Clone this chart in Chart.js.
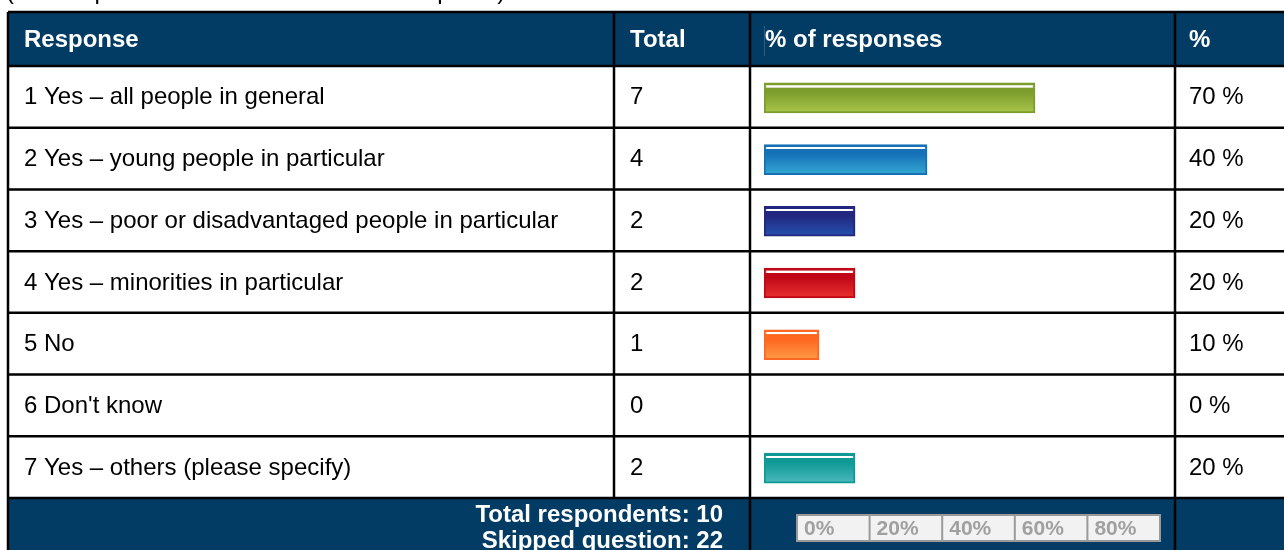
<!DOCTYPE html>
<html>
<head>
<meta charset="utf-8">
<script src="https://cdn.jsdelivr.net/npm/chart.js@4"></script>
<style>
  html, body { margin: 0; padding: 0; background: #fff; }
  #wrap { width: 1284px; height: 550px; position: relative; }
</style>
</head>
<body>
<div id="wrap"><canvas id="respChart"></canvas></div>
<script>
// data
const responses = [
    '1 Yes \u2013 all people in general',
    '2 Yes \u2013 young people in particular',
    '3 Yes \u2013 poor or disadvantaged people in particular',
    '4 Yes \u2013 minorities in particular',
    '5 No',
    "6 Don't know",
    '7 Yes \u2013 others (please specify)'
];
const totals = [7, 4, 2, 2, 1, 0, 2];
const percents = [70, 40, 20, 20, 10, 0, 20];
const axisTicks = ['0%', '20%', '40%', '60%', '80%'];
const headers = ['Response', 'Total', '% of responses', '%'];
const totalRespondents = 10;
const skippedQuestion = 22;

// bar colours: top (also border) and bottom of the gradient
const barTop = ['#7c9c2c', '#1670b6', '#22267e', '#bf0718', '#ff6620', '#0e9995'];
const barBottom = ['#aac54c', '#33a9d2', '#2552b0', '#e9302e', '#ff9b46', '#4cb9bd'];
const barColorIdx = [0, 1, 2, 3, 4, 5, 5];

const HEAD_BG = '#023b63';
const FONT = "'Liberation Sans', Arial, sans-serif";
const colX = [8, 614, 750, 1175];
const headTop = 12, headBottom = 66, footTop = 498;
const BAR_START = -5.3; // bars have a small minimum length in the original

// table drawn around the chart area
const tablePlugin = {
    id: 'table',
    beforeDraw(chart) {
        const ctx = chart.ctx;
        const y = chart.scales.y;
        ctx.save();
        // cut-off caption line above the table
        ctx.fillStyle = '#000';
        ctx.font = '24px ' + FONT;
        ctx.textBaseline = 'alphabetic';
        ctx.fillText('(Tick all possible answers that match \u2013 up to 7)', 6, -1);

        ctx.fillStyle = HEAD_BG;
        ctx.fillRect(colX[0], headTop, chart.width - colX[0], headBottom - headTop);
        ctx.fillRect(colX[0], footTop, chart.width - colX[0], chart.height - footTop);

        // header text
        ctx.fillStyle = '#fff';
        ctx.font = 'bold 24px ' + FONT;
        ctx.textBaseline = 'middle';
        const hx = [24, 630, 765, 1189];
        headers.forEach((h, i) => ctx.fillText(h, hx[i], (headTop + headBottom) / 2 + 1));
        ctx.strokeStyle = 'rgba(255,255,255,0.18)';
        ctx.lineWidth = 1;
        ctx.beginPath();
        ctx.moveTo(764.5, 26); ctx.lineTo(764.5, 56);
        ctx.stroke();

        // body text
        ctx.fillStyle = '#000';
        ctx.font = '24px ' + FONT;
        responses.forEach((r, i) => {
            const cy = y.getPixelForValue(i);
            ctx.fillText(r, 24, cy);
            ctx.fillText(String(totals[i]), 630, cy);
            ctx.fillText(percents[i] + ' %', 1189, cy);
        });

        // footer
        ctx.fillStyle = '#fff';
        ctx.font = 'bold 24px ' + FONT;
        ctx.textAlign = 'right';
        ctx.fillText('Total respondents: ' + totalRespondents, 723, 515);
        ctx.fillText('Skipped question: ' + skippedQuestion, 723, 541);

        // little percentage scale in the footer
        const ax0 = 797, ax1 = 1160, ay0 = 515, ay1 = 541;
        const cw = (ax1 - ax0) / axisTicks.length;
        ctx.fillStyle = '#f2f2f2';
        ctx.fillRect(ax0, ay0, ax1 - ax0, ay1 - ay0);
        ctx.strokeStyle = '#999';
        ctx.lineWidth = 2;
        ctx.strokeRect(ax0, ay0, ax1 - ax0, ay1 - ay0);
        ctx.textAlign = 'left';
        ctx.fillStyle = '#a0a0a0';
        ctx.font = 'bold 21px ' + FONT;
        axisTicks.forEach((t, i) => {
            const x = ax0 + i * cw;
            if (i > 0) {
                ctx.beginPath();
                ctx.moveTo(x, ay0); ctx.lineTo(x, ay1);
                ctx.stroke();
            }
            ctx.fillText(t, x + 7, (ay0 + ay1) / 2 + 1);
        });
        ctx.restore();
    },
    afterDraw(chart) {
        const ctx = chart.ctx;
        const rowH = (footTop - headBottom) / responses.length;
        ctx.save();
        ctx.strokeStyle = '#000';
        ctx.lineWidth = 2.5;
        ctx.beginPath();
        for (let i = 0; i <= responses.length; i++) {
            const ly = headBottom + i * rowH;
            ctx.moveTo(colX[0], ly); ctx.lineTo(chart.width, ly);
        }
        ctx.moveTo(colX[0], headTop); ctx.lineTo(chart.width, headTop);
        colX.forEach((x, i) => {
            ctx.moveTo(x, headTop);
            ctx.lineTo(x, i === 1 ? footTop : chart.height);
        });
        ctx.stroke();
        ctx.restore();
    }
};

function barFill(context) {
    const chart = context.chart;
    const yScale = chart.scales.y;
    const i = context.dataIndex;
    const c = barColorIdx[i] || 0;
    if (!yScale || i === undefined) return barTop[c];
    const cy = yScale.getPixelForValue(i);
    if (!isFinite(cy)) return barTop[c];
    const g = chart.ctx.createLinearGradient(0, cy - 15, 0, cy + 15);
    g.addColorStop(0, barTop[c]);
    g.addColorStop(0.08, barTop[c]);
    g.addColorStop(0.09, 'rgba(255,255,255,0.4)');
    g.addColorStop(0.15, 'rgba(255,255,255,0.4)');
    g.addColorStop(0.16, barTop[c]);
    g.addColorStop(0.3, barTop[c]);
    g.addColorStop(1, barBottom[c]);
    return g;
}

new Chart(document.getElementById('respChart'), {
    type: 'bar',
    data: {
        labels: responses,
        datasets: [{
            label: '% of responses',
            data: percents.map(p => (p > 0 ? p : null)),
            base: BAR_START,
            backgroundColor: barFill,
            borderColor: ctx => barTop[barColorIdx[ctx.dataIndex] || 0],
            borderWidth: 2,
            borderSkipped: false,
            barThickness: 30
        }]
    },
    options: {
        indexAxis: 'y',
        responsive: true,
        maintainAspectRatio: false,
        animation: false,
        layout: { padding: { left: 764, right: 141, top: 67, bottom: 51 } },
        scales: {
            x: { display: false, min: BAR_START, max: 100 },
            y: { display: false }
        },
        plugins: {
            legend: { display: false },
            tooltip: { enabled: false }
        }
    },
    plugins: [tablePlugin]
});
</script>
</body>
</html>
